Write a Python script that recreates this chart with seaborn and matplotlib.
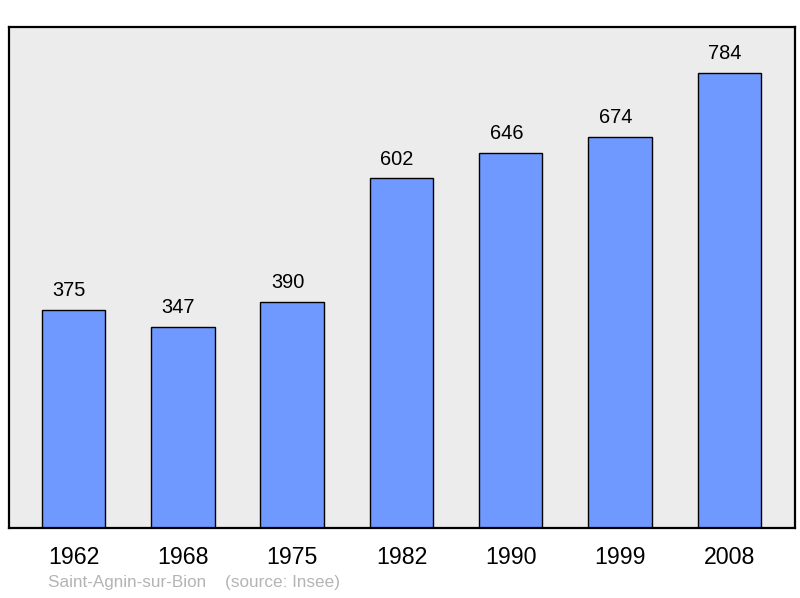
import pandas as pd
import matplotlib.pyplot as plt
import seaborn as sns

years = ['1962', '1968', '1975', '1982', '1990', '1999', '2008']
population = [375, 347, 390, 602, 646, 674, 784]

df = pd.DataFrame({'year': years, 'population': population})

sns.set_theme(style='white')
plt.rcParams['font.family'] = ['Liberation Sans', 'DejaVu Sans']

fig = plt.figure(figsize=(8, 5.98), dpi=100)
ax = fig.add_axes([0.01125, 0.117, 0.9825, 0.838])
ax.set_facecolor('#ececec')

sns.barplot(data=df, x='year', y='population', color='#7099ff', saturation=1,
            edgecolor='black', linewidth=1.0, width=0.58, ax=ax)

# value labels above bars (slightly left of centre, like the original)
for i, v in enumerate(population):
    ax.text(i - 0.04, v + 24, str(v), ha='center', va='baseline',
            fontsize=14.4, color='black')

ax.set_xlim(-0.59, 6.6)
ax.set_ylim(0, 863)
ax.set_yticks([])
ax.set_xlabel('')
ax.set_ylabel('')
ax.tick_params(axis='x', length=0, labelsize=16.7, labelcolor='black', pad=13)

for s in ax.spines.values():
    s.set_visible(True)
    s.set_color('black')
    s.set_linewidth(1.6)

fig.text(48 / 800, 1 - 583 / 598, 'Saint-Agnin-sur-Bion    (source: Insee)',
         fontsize=12.3, color='#b4b4b4', ha='left', va='center')

plt.savefig('out.png', dpi=100)
